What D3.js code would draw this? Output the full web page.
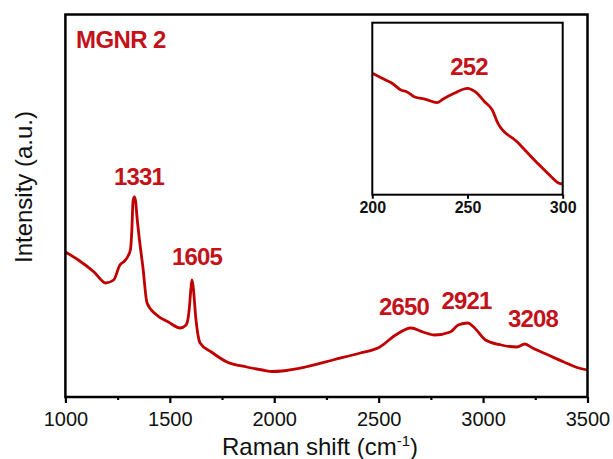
<!DOCTYPE html>
<html>
<head>
<meta charset="utf-8">
<script src="https://cdn.jsdelivr.net/npm/d3@7"></script>
<style>
body { margin: 0; background: #fff; }
svg { display: block; font-family: "Liberation Sans", Arial, sans-serif; }
.frame { fill: none; stroke: #000; stroke-width: 2.5; }
.inframe { fill: none; stroke: #000; stroke-width: 2; }
.spec { fill: none; stroke: #c00000; stroke-width: 2.8; stroke-linejoin: round; }
.axis path { display: none; }
.axis line { stroke: #000; stroke-width: 2.2; }
.lbl { fill: #c4121a; font-weight: bold; }
</style>
</head>
<body>
<script>
// main spectrum (Raman shift, intensity a.u.)
var shift = [1000, 1062, 1137, 1193, 1231, 1261, 1283, 1300, 1312, 1318, 1324, 1330, 1336, 1342, 1353, 1371, 1391,
    1437, 1493, 1549, 1578, 1593, 1600, 1606, 1612, 1624, 1645, 1699, 1774, 1868, 1943, 1990, 2037, 2150, 2281, 2412,
    2506, 2581, 2655, 2712, 2768, 2843, 2881, 2927, 2955, 3012, 3087, 3162, 3200, 3237, 3312, 3387, 3443, 3500];
var intensity = [145, 137, 125, 114, 117, 132, 136, 141, 148, 166, 196, 200, 196, 182, 160, 130, 94,
    82, 75, 69, 72, 88, 106, 117, 110, 80, 54, 45, 35, 30, 27, 25.5, 26, 30, 37, 44,
    50, 62, 69, 65, 62, 65, 72, 74, 70, 57, 52, 50, 53, 49, 42, 35, 30, 27];
var peaks = [1331, 1605, 2650, 2921, 3208];
var peakY = [212, 132, 82, 88, 70];
var xTicks = [1000, 1500, 2000, 2500, 3000, 3500];
var xMinor = [1250, 1750, 2250, 2750, 3250];

// inset (200-300 cm-1)
var inShift = [200, 207, 210, 215, 218, 222, 228, 234, 237, 243, 250, 254, 259, 263, 266, 276, 286, 294, 298, 300];
var inIntensity = [121.4, 114.7, 112, 104.7, 103, 98, 95.4, 92, 95.4, 101.4, 106.4, 103, 93, 84.7, 71.4, 53, 33, 18, 11.4, 10.7];
var inTicks = [200, 250, 300];
var inPeak = 252;

var w = 613,
    h = 459,
    mLeft = 65.4,
    mRight = 587.5,
    mTop = 14.5,
    mBottom = 397;

var svg = d3.select("body").append("svg")
    .attr("width", w)
    .attr("height", h);

var x = d3.scaleLinear().domain([1000, 3500]).range([mLeft, mRight]);
var y = d3.scaleLinear().domain([0, 382.5]).range([mBottom, mTop]);

var line = d3.line()
    .x(function(d) { return x(d[0]); })
    .y(function(d) { return y(d[1]); })
    .curve(d3.curveMonotoneX);

svg.append("path")
    .attr("class", "spec")
    .datum(shift.map(function(s, i) { return [s, intensity[i]]; }))
    .attr("d", line);

var xAxis = svg.append("g")
    .attr("class", "axis")
    .attr("transform", "translate(0," + mBottom + ")")
    .call(d3.axisBottom(x).tickValues(xTicks).tickSize(6).tickFormat(d3.format("d")));
xAxis.selectAll("text")
    .attr("y", 29)
    .attr("dy", 0)
    .attr("fill", "#111")
    .style("font-size", "20px");
svg.append("g")
    .attr("class", "axis")
    .attr("transform", "translate(0," + mBottom + ")")
    .call(d3.axisBottom(x).tickValues(xMinor).tickSize(3).tickFormat(""));

svg.append("rect")
    .attr("class", "frame")
    .attr("x", mLeft)
    .attr("y", mTop)
    .attr("width", mRight - mLeft)
    .attr("height", mBottom - mTop);

var xt = svg.append("text")
    .attr("x", 320)
    .attr("y", 455)
    .attr("text-anchor", "middle")
    .attr("fill", "#111")
    .style("font-size", "24px")
    .text("Raman shift (cm");
xt.append("tspan").attr("dy", -9).style("font-size", "15px").text("-1");
xt.append("tspan").attr("dy", 9).text(")");

svg.append("text")
    .attr("transform", "translate(32,187) rotate(-90)")
    .attr("text-anchor", "middle")
    .attr("fill", "#111")
    .style("font-size", "24px")
    .text("Intensity (a.u.)");

svg.append("text")
    .attr("class", "lbl")
    .attr("x", 76)
    .attr("y", 48)
    .style("font-size", "24px")
    .style("letter-spacing", "-0.6px")
    .text("MGNR 2");

var lblX = [139, 197, 404, 466.5, 533];
svg.selectAll(".peak")
    .data(peaks)
    .enter()
    .append("text")
    .attr("class", "lbl peak")
    .attr("x", function(d, i) { return lblX[i]; })
    .attr("y", function(d, i) { return y(peakY[i]); })
    .attr("text-anchor", "middle")
    .style("font-size", "24px")
    .style("letter-spacing", "-0.8px")
    .text(function(d) { return d; });

// inset
var il = 372.3, ir = 562.7, it = 22.7, ib = 194.7;
var ix = d3.scaleLinear().domain([200, 300]).range([il, ir]);
var iy = d3.scaleLinear().domain([0, 172]).range([ib, it]);
var inset = svg.append("g").attr("class", "inset");

inset.append("path")
    .attr("class", "spec")
    .datum(inShift.map(function(s, i) { return [s, inIntensity[i]]; }))
    .attr("d", d3.line()
        .x(function(d) { return ix(d[0]); })
        .y(function(d) { return iy(d[1]); })
        .curve(d3.curveMonotoneX));

var inAxis = inset.append("g")
    .attr("class", "axis")
    .attr("transform", "translate(0," + ib + ")")
    .call(d3.axisBottom(ix).tickValues(inTicks).tickSize(4));
inAxis.selectAll("line").style("stroke-width", 2);
inAxis.selectAll("text")
    .attr("y", 18)
    .attr("dy", 0)
    .attr("fill", "#111")
    .style("font-size", "16px")
    .style("font-weight", "bold");

inset.append("rect")
    .attr("class", "inframe")
    .attr("x", il)
    .attr("y", it)
    .attr("width", ir - il)
    .attr("height", ib - it);

inset.append("text")
    .attr("class", "lbl")
    .attr("x", 469)
    .attr("y", 75)
    .attr("text-anchor", "middle")
    .style("font-size", "24px")
    .style("letter-spacing", "-0.8px")
    .text(inPeak);
</script>
</body>
</html>
